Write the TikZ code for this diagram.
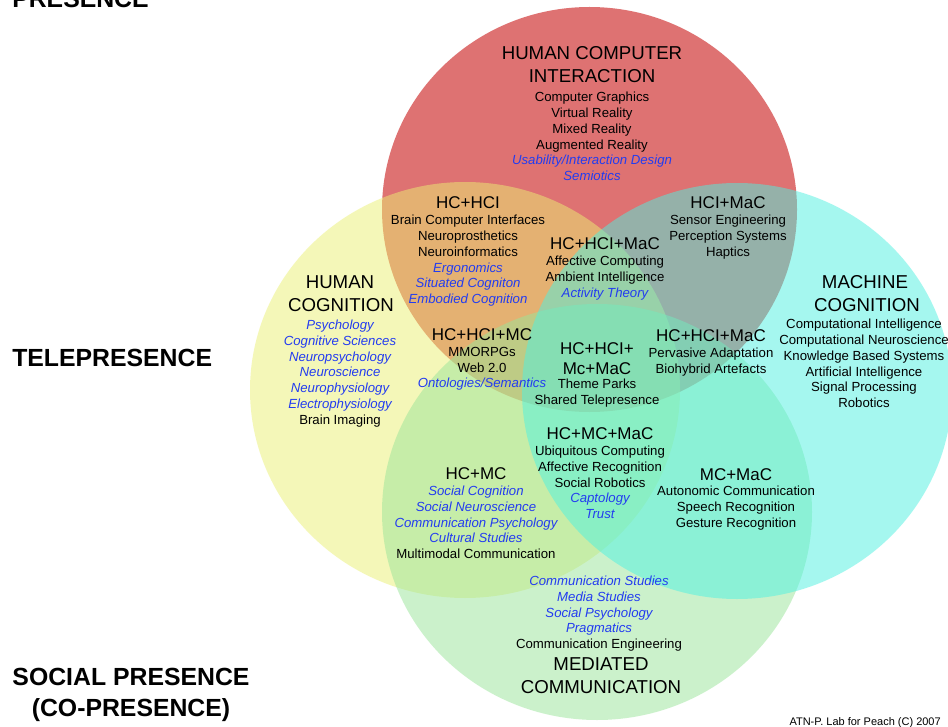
\documentclass[tikz,border=0pt]{standalone}
\usepackage{fontspec}
\setmainfont{Liberation Sans}
\definecolor{cred}{RGB}{222,114,114}
\definecolor{cyel}{RGB}{235,241,115}
\definecolor{ccyan}{RGB}{77,241,225}
\definecolor{cgreen}{RGB}{153,229,153}
\definecolor{itblue}{RGB}{35,60,240}
\tikzset{
  itemk/.style={anchor=base, inner sep=0pt, font=\fontsize{9.9}{11}\selectfont},
  itemb/.style={itemk, text=itblue, font=\fontsize{9.9}{11}\selectfont\itshape},
  head/.style={anchor=base, inner sep=0pt, font=\fontsize{12.75}{14}\selectfont},
  big/.style={anchor=base, inner sep=0pt, font=\fontsize{14}{16}\selectfont},
  side/.style={anchor=base, inner sep=0pt, font=\fontsize{18.6}{20}\selectfont\bfseries},
  venn/.style={fill opacity=0.5}
}
\begin{document}
\begin{tikzpicture}[x=0.75pt, y=-0.75pt]
\useasboundingbox (0,0) rectangle (948,727);
\fill[white] (0,0) rectangle (948,727);
% circles
\fill[cred] (589.5,209.5) ellipse [x radius=155.625pt, y radius=151.875pt];
\fill[cyel, venn] (465,390) ellipse [x radius=161.25pt, y radius=156pt];
\fill[cgreen, venn] (597,512) ellipse [x radius=161.25pt, y radius=156pt];
\fill[ccyan, venn] (737,391) ellipse [x radius=161.25pt, y radius=156pt];

% side labels
\node[side, anchor=base west] (presence) at (12,7.3) {PRESENCE};
\node[side, anchor=base west] (tele) at (12,366) {TELEPRESENCE};
\node[side] (social) at (131,685.7) {SOCIAL PRESENCE};
\node[side] (copres) at (131,716) {(CO-PRESENCE)};
\node[anchor=base east, inner sep=0pt, font=\fontsize{8.25}{9}\selectfont] (credit) at (941,725.5) {ATN-P. Lab for Peach (C) 2007};

% HCI
\node[big] (hcit1) at (592,59.7) {HUMAN COMPUTER};
\node[big] (hcit2) at (592,82.7) {INTERACTION};
\foreach \t/\s [count=\i] in {Computer Graphics/k, Virtual Reality/k, Mixed Reality/k, Augmented Reality/k, {Usability/Interaction Design}/b, Semiotics/b}
  \node[item\s] (hci\i) at (592,{101.7+15.8*(\i-1)}) {\t};

% HC+HCI
\node[head] (hchcih) at (468,209) {HC+HCI};
\foreach \t/\s [count=\i] in {Brain Computer Interfaces/k, Neuroprosthetics/k, Neuroinformatics/k, Ergonomics/b, Situated Cogniton/b, Embodied Cognition/b}
  \node[item\s] (hchci\i) at (468,{224.7+15.8*(\i-1)}) {\t};

% HCI+MaC
\node[head] (hcimach) at (728,209) {HCI+MaC};
\foreach \t/\s [count=\i] in {Sensor Engineering/k, Perception Systems/k, Haptics/k}
  \node[item\s] (hcimac\i) at (728,{224.7+15.8*(\i-1)}) {\t};

% HC+HCI+MaC (upper)
\node[head] (uph) at (605,249) {HC+HCI+MaC};
\foreach \t/\s [count=\i] in {Affective Computing/k, Ambient Intelligence/k, Activity Theory/b}
  \node[item\s] (up\i) at (605,{265.5+15.8*(\i-1)}) {\t};

% HUMAN COGNITION
\node[big] (hct1) at (340,288.7) {HUMAN};
\node[big] (hct2) at (341,311) {COGNITION};
\foreach \t/\s [count=\i] in {Psychology/b, Cognitive Sciences/b, Neuropsychology/b, Neuroscience/b, Neurophysiology/b, Electrophysiology/b, Brain Imaging/k}
  \node[item\s] (hc\i) at (340,{329.5+15.83*(\i-1)}) {\t};

% HC+HCI+MC
\node[head] (hhmh) at (482,340) {HC+HCI+MC};
\foreach \t/\s [count=\i] in {MMORPGs/k, Web 2.0/k, {Ontologies/Semantics}/b}
  \node[item\s] (hhm\i) at (482,{356.7+15.6*(\i-1)}) {\t};

% HC+HCI+Mc+MaC
\node[head] (allh1) at (597,354) {HC+HCI+};
\node[head] (allh2) at (597,374) {Mc+MaC};
\foreach \t/\s [count=\i] in {Theme Parks/k, Shared Telepresence/k}
  \node[item\s] (all\i) at (597,{388.7+15.8*(\i-1)}) {\t};

% HC+HCI+MaC (lower)
\node[head] (lowh) at (711,341) {HC+HCI+MaC};
\foreach \t/\s [count=\i] in {Pervasive Adaptation/k, Biohybrid Artefacts/k}
  \node[item\s] (low\i) at (711,{357.5+15.8*(\i-1)}) {\t};

% MACHINE COGNITION
\node[big] (mct1) at (865,288.7) {MACHINE};
\node[big] (mct2) at (867,311) {COGNITION};
\foreach \t/\s [count=\i] in {Computational Intelligence/k, Computational Neuroscience/k, Knowledge Based Systems/k, Artificial Intelligence/k, Signal Processing/k, Robotics/k}
  \node[item\s] (mc\i) at (864,{328.7+15.8*(\i-1)}) {\t};

% HC+MC+MaC
\node[head] (hmmh) at (600,439) {HC+MC+MaC};
\foreach \t/\s [count=\i] in {Ubiquitous Computing/k, Affective Recognition/k, Social Robotics/k, Captology/b, Trust/b}
  \node[item\s] (hmm\i) at (600,{455.7+15.75*(\i-1)}) {\t};

% HC+MC
\node[head] (hcmch) at (476,479) {HC+MC};
\foreach \t/\s [count=\i] in {Social Cognition/b, Social Neuroscience/b, Communication Psychology/b, Cultural Studies/b, Multimodal Communication/k}
  \node[item\s] (hcmc\i) at (476,{495.7+15.75*(\i-1)}) {\t};

% MC+MaC
\node[head] (mcmach) at (736,480) {MC+MaC};
\foreach \t/\s [count=\i] in {Autonomic Communication/k, Speech Recognition/k, Gesture Recognition/k}
  \node[item\s] (mcmac\i) at (736,{495.7+15.75*(\i-1)}) {\t};

% MEDIATED COMMUNICATION
\foreach \t/\s [count=\i] in {Communication Studies/b, Media Studies/b, Social Psychology/b, Pragmatics/b, Communication Engineering/k}
  \node[item\s] (mac\i) at (599,{585.7+15.75*(\i-1)}) {\t};
\node[big] (mact1) at (601,670.7) {MEDIATED};
\node[big] (mact2) at (601,693) {COMMUNICATION};
\end{tikzpicture}
\end{document}
